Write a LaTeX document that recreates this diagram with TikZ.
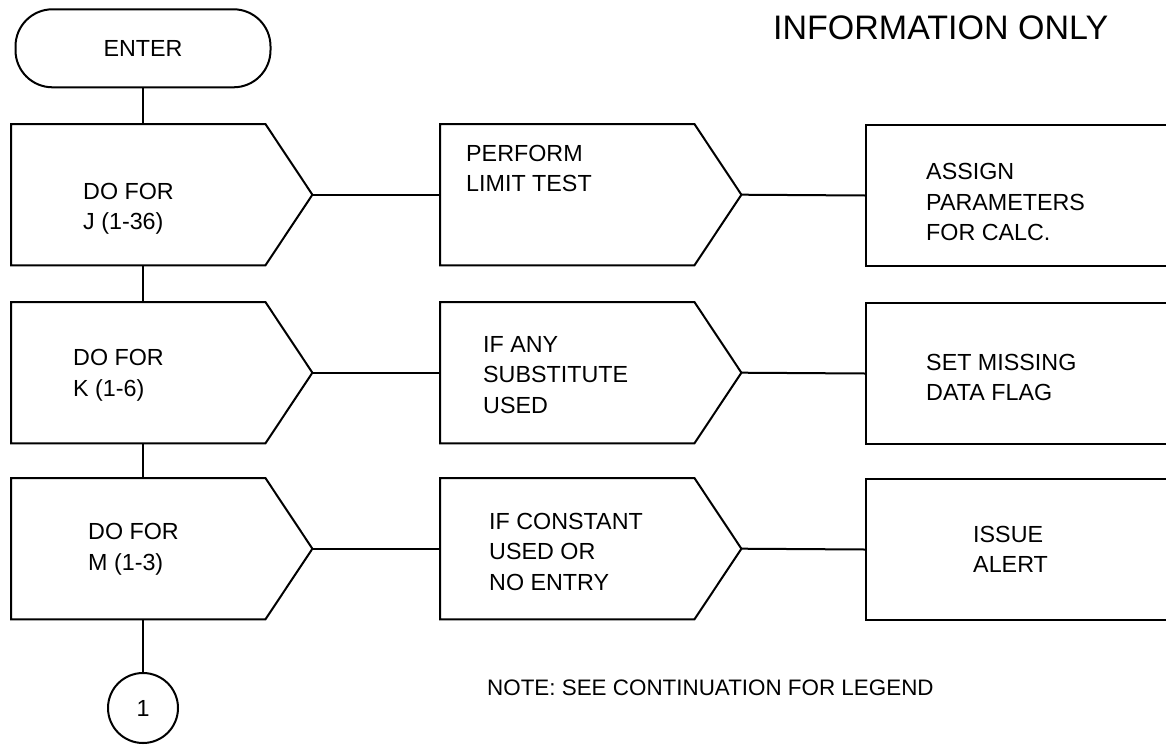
\documentclass[tikz,border=0pt]{standalone}
\usepackage{fontspec}
\setmainfont{Liberation Sans}
\usetikzlibrary{calc,positioning}
\tikzset{
  flowline/.style={line width=2pt},
  dobox/.style={minimum width=254pt, minimum height=141pt, anchor=north west, inner sep=0pt},
  opbox/.style={draw, line width=2pt, minimum width=315pt, minimum height=141pt, anchor=north west, inner sep=0pt},
  boxtext/.style={anchor=north west, align=left, inner sep=0pt},
}

\begin{document}
\begin{tikzpicture}[x=1pt, y=-1pt, line join=miter, font=\fontsize{23.3}{30.5}\selectfont]
\useasboundingbox (0,0) rectangle (1166,744);
\node[draw, flowline, rounded corners=37pt, minimum width=255pt, minimum height=78pt, inner sep=0pt] (enter) at (143,48.3) {ENTER};
\node[dobox] (doj)  at (11,124) {};
\node[dobox] (dok)  at (11,302) {};
\node[dobox] (dom)  at (11,478) {};
\node[dobox] (perf) at (440,124) {};
\node[dobox] (subs) at (440,302) {};
\node[dobox] (cons) at (440,478) {};
\node[opbox] (asgn) at (865,124) {};
\node[opbox] (flag) at (865,302) {};
\node[opbox] (alrt) at (865,478) {};
\node[draw, flowline, circle, minimum size=70pt, inner sep=0pt] (cont) at (143,708) {1};
\foreach \n in {doj,dok,dom,perf,subs,cons}
  \draw[flowline] (\n.north west) -- (\n.north east) -- ($(\n.east)+(47,0)$) coordinate (\n-tip) -- (\n.south east) -- (\n.south west) -- cycle;
\draw[flowline] (enter.south) -- (enter.south |- doj.north);
\draw[flowline] (enter |- doj.south) -- (enter |- dok.north);
\draw[flowline] (enter |- dok.south) -- (enter |- dom.north);
\draw[flowline] (enter |- dom.south) -- (cont.north);
\draw[flowline] (doj-tip) -- (perf.west);
\draw[flowline] (dok-tip) -- (subs.west);
\draw[flowline] (dom-tip) -- (cons.west);
\draw[flowline] (perf-tip) -- (asgn.west);
\draw[flowline] (subs-tip) -- (flag.west);
\draw[flowline] (cons-tip) -- (alrt.west);
\node[boxtext] (doj-t)  at (83,182.7)  {DO FOR\\J (1-36)};
\node[boxtext] (dok-t)  at (73,349.3)  {DO FOR\\K (1-6)};
\node[boxtext] (dom-t)  at (88,523.3)  {DO FOR\\M (1-3)};
\node[boxtext] (perf-t) at (466,145)   {PERFORM\\LIMIT TEST};
\node[boxtext] (subs-t) at (483,336)   {IF ANY\\SUBSTITUTE\\USED};
\node[boxtext] (cons-t) at (489,512.7) {IF CONSTANT\\USED OR\\NO ENTRY};
\node[boxtext] (asgn-t) at (926,163.3) {ASSIGN\\PARAMETERS\\FOR CALC.};
\node[boxtext] (flag-t) at (926,354)   {SET MISSING\\DATA FLAG};
\node[boxtext] (alrt-t) at (973,526)   {ISSUE\\ALERT};
\node[boxtext, font=\fontsize{22.4}{30}\selectfont] (note) at (487,680) {NOTE: SEE CONTINUATION FOR LEGEND};
\node[boxtext, font=\fontsize{34}{40}\selectfont] (info) at (773,16) {INFORMATION ONLY};
\end{tikzpicture}
\end{document}
